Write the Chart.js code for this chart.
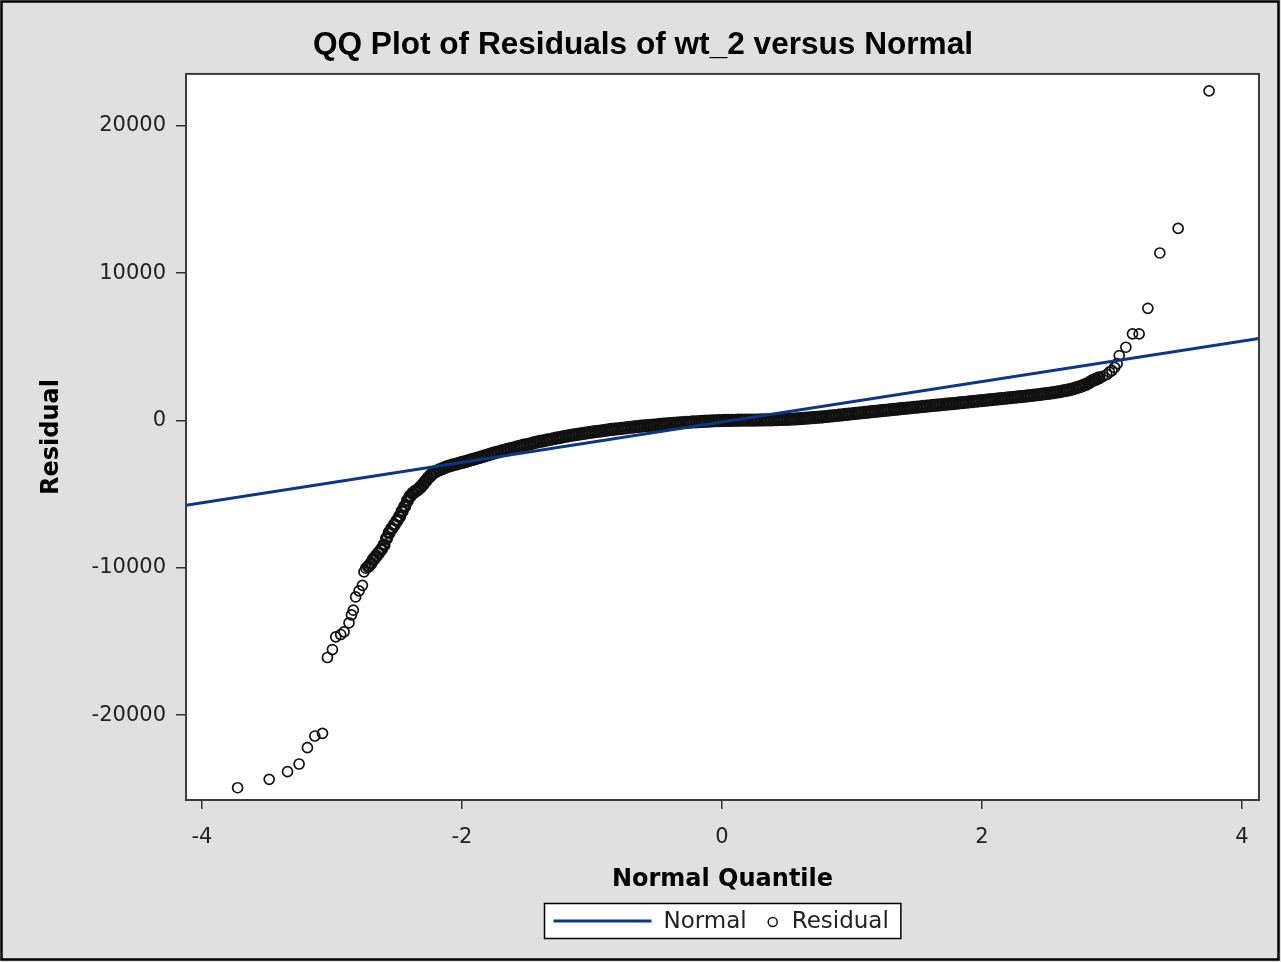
<!DOCTYPE html>
<html>
<head>
<meta charset="utf-8">
<title>QQ Plot of Residuals of wt_2 versus Normal</title>
<script src="https://cdn.jsdelivr.net/npm/chart.js@4.4.1/dist/chart.umd.min.js"></script>
<style>
  html, body { margin: 0; padding: 0; background: #e0e0e0; }
  #wrap { width: 1281px; height: 962px; }
</style>
</head>
<body>
<div id="wrap"><canvas id="qq-plot" width="1281" height="962"></canvas></div>
<script>
// axis ticks and ranges
var xTicks = [-4, -2, 0, 2, 4];
var yTicks = [-20000, -10000, 0, 10000, 20000];
var xRange = [-4.123, 4.131];
var yRange = [-25763, 23525];

// fitted normal line, ends at the plot edges
var normalX = [-4.123, 4.131];
var normalY = [-5763, 5559];

// residuals as [normal quantile, residual]
var lowerTail = [
  [-3.726, -24930], [-3.483, -24360], [-3.342, -23840], [-3.253, -23320], [-3.189, -22210],
  [-3.132, -21420], [-3.073, -21240], [-3.035, -16090], [-2.997, -15550], [-2.971, -14690],
  [-2.933, -14530], [-2.907, -14350], [-2.869, -13740], [-2.850, -13200], [-2.836, -12880],
  [-2.818, -11980], [-2.792, -11570], [-2.766, -11190], [-2.754, -10280], [-2.740, -10030]
];

var body = [
  [-2.72, -9900], [-2.70, -9700], [-2.68, -9420], [-2.66, -9200], [-2.64, -8980], [-2.62, -8750],
  [-2.60, -8450], [-2.58, -8000], [-2.56, -7620], [-2.54, -7320], [-2.52, -7080], [-2.50, -6800],
  [-2.48, -6520], [-2.46, -6150], [-2.44, -5830], [-2.42, -5450], [-2.40, -5150], [-2.38, -4950],
  [-2.36, -4810], [-2.34, -4690], [-2.32, -4530], [-2.30, -4340], [-2.28, -4120], [-2.26, -3900],
  [-2.24, -3720], [-2.22, -3560],
  [-2.200, -3450], [-2.175, -3350], [-2.150, -3270], [-2.125, -3170], [-2.100, -3090], [-2.075, -3030],
  [-2.050, -2970], [-2.025, -2910], [-2.000, -2850], [-1.975, -2790], [-1.950, -2730], [-1.925, -2660],
  [-1.900, -2600], [-1.875, -2530], [-1.850, -2470], [-1.825, -2400], [-1.800, -2330], [-1.775, -2270],
  [-1.750, -2200], [-1.725, -2140], [-1.700, -2080], [-1.675, -2020], [-1.650, -1960], [-1.625, -1910],
  [-1.600, -1850], [-1.575, -1790], [-1.550, -1740], [-1.525, -1680], [-1.500, -1630], [-1.475, -1580],
  [-1.450, -1520], [-1.425, -1470], [-1.400, -1420], [-1.375, -1380], [-1.350, -1330], [-1.325, -1290],
  [-1.300, -1240], [-1.275, -1200], [-1.250, -1160], [-1.225, -1110], [-1.200, -1070], [-1.175, -1030],
  [-1.150, -990], [-1.125, -960], [-1.100, -920], [-1.075, -890], [-1.050, -860], [-1.025, -820],
  [-1.000, -790], [-0.975, -760], [-0.950, -730], [-0.925, -700], [-0.900, -670], [-0.875, -640],
  [-0.850, -610], [-0.825, -590], [-0.800, -560], [-0.775, -530], [-0.750, -510], [-0.725, -480],
  [-0.700, -460], [-0.675, -440], [-0.650, -410], [-0.625, -390], [-0.600, -370], [-0.575, -350],
  [-0.550, -330], [-0.525, -310], [-0.500, -290], [-0.475, -270], [-0.450, -250], [-0.425, -230],
  [-0.400, -210], [-0.375, -200], [-0.350, -180], [-0.325, -160], [-0.300, -150], [-0.275, -130],
  [-0.250, -120], [-0.225, -100], [-0.200, -90], [-0.175, -80], [-0.150, -60], [-0.125, -50],
  [-0.100, -40], [-0.075, -30], [-0.050, -20], [-0.025, -10], [0.000, 0], [0.025, 5],
  [0.050, 8], [0.075, 12], [0.100, 15], [0.125, 18], [0.150, 20], [0.175, 22],
  [0.200, 25], [0.225, 28], [0.250, 30], [0.275, 32], [0.300, 35], [0.325, 38],
  [0.350, 42], [0.375, 46], [0.400, 50], [0.425, 58], [0.450, 65], [0.475, 72],
  [0.500, 80], [0.525, 90], [0.550, 100], [0.575, 110], [0.600, 120], [0.625, 138],
  [0.650, 155], [0.675, 172], [0.700, 190], [0.725, 210], [0.750, 230], [0.775, 250],
  [0.800, 270], [0.825, 292], [0.850, 315], [0.875, 338], [0.900, 360], [0.925, 385],
  [0.950, 408], [0.975, 432], [1.000, 455], [1.025, 480], [1.050, 502], [1.075, 526],
  [1.100, 550], [1.125, 572], [1.150, 595], [1.175, 618], [1.200, 640], [1.225, 662],
  [1.250, 685], [1.275, 708], [1.300, 730], [1.325, 752], [1.350, 775], [1.375, 798],
  [1.400, 820], [1.425, 842], [1.450, 865], [1.475, 888], [1.500, 910], [1.525, 932],
  [1.550, 955], [1.575, 978], [1.600, 1000], [1.625, 1020], [1.650, 1042], [1.675, 1064],
  [1.700, 1085], [1.725, 1106], [1.750, 1128], [1.775, 1150], [1.800, 1170], [1.825, 1192],
  [1.850, 1215], [1.875, 1238], [1.900, 1260], [1.925, 1282], [1.950, 1305], [1.975, 1328],
  [2.000, 1350], [2.025, 1372], [2.050, 1395], [2.075, 1418], [2.100, 1440], [2.125, 1462],
  [2.150, 1485], [2.175, 1508], [2.200, 1530], [2.225, 1552], [2.250, 1575], [2.275, 1598],
  [2.300, 1620], [2.325, 1645], [2.350, 1670], [2.375, 1695], [2.400, 1720], [2.425, 1748],
  [2.450, 1775], [2.475, 1802], [2.500, 1830], [2.525, 1862], [2.550, 1895], [2.575, 1928],
  [2.600, 1960], [2.625, 2005], [2.650, 2050], [2.675, 2100], [2.700, 2150], [2.725, 2220],
  [2.750, 2290], [2.775, 2370], [2.800, 2450], [2.825, 2570], [2.850, 2700], [2.875, 2800],
  [2.900, 2900]
];

var upperTail = [
  [2.930, 3000], [2.960, 3120], [2.980, 3280], [3.000, 3390], [3.020, 3600], [3.040, 3864],
  [3.056, 4407], [3.107, 4972], [3.158, 5876], [3.209, 5876], [3.276, 7616], [3.368, 11370],
  [3.509, 13037], [3.747, 22373]
];

// background, plot frame, outer frame and the boxed legend
var qqFrame = {
  id: 'qqFrame',
  beforeDraw: function (chart) {
    var c = chart.ctx, a = chart.chartArea;
    c.save();
    c.fillStyle = '#e0e0e0';
    c.fillRect(0, 0, chart.width, chart.height);
    c.fillStyle = '#ffffff';
    c.fillRect(a.left, a.top, a.right - a.left, a.bottom - a.top);
    c.restore();
  },
  afterDraw: function (chart) {
    var c = chart.ctx, a = chart.chartArea;
    var ds = chart.data.datasets;
    c.save();
    c.strokeStyle = '#3c3c3c';
    c.lineWidth = 2;
    c.strokeRect(a.left, a.top, a.right - a.left, a.bottom - a.top);

    c.strokeStyle = '#000';
    c.lineWidth = 2.5;
    c.strokeRect(1.5, 1.5, chart.width - 4, chart.height - 4);

    // legend
    c.font = '23px "DejaVu Sans"';
    var w0 = c.measureText(ds[0].label).width;
    var w1 = c.measureText(ds[1].label).width;
    var boxW = 9 + 98 + 12 + w0 + 21 + 10 + 14 + w1 + 12;
    var x0 = Math.round((a.left + a.right) / 2 - boxW / 2) + 0.5;
    var y0 = chart.height - 58.5, h = 35, cy = y0 + h / 2;
    c.fillStyle = '#fff';
    c.fillRect(x0, y0, boxW, h);
    c.strokeStyle = '#000';
    c.lineWidth = 1.5;
    c.strokeRect(x0, y0, boxW, h);

    c.strokeStyle = ds[0].borderColor;
    c.lineWidth = 3;
    c.beginPath();
    c.moveTo(x0 + 9, cy);
    c.lineTo(x0 + 107, cy);
    c.stroke();

    c.fillStyle = '#222';
    c.textBaseline = 'middle';
    c.textAlign = 'left';
    var tx = x0 + 119;
    c.fillText(ds[0].label, tx, cy + 1);

    var px = tx + w0 + 21 + 5;
    c.strokeStyle = ds[1].pointBorderColor;
    c.lineWidth = 1.5;
    c.beginPath();
    c.arc(px, cy + 1, 4.5, 0, Math.PI * 2);
    c.stroke();

    c.fillText(ds[1].label, px + 5 + 14, cy + 1);
    c.restore();
  }
};

function toPoints(pairs) {
  return pairs.map(function (p) { return { x: p[0], y: p[1] }; });
}

// the packed middle of the sample reads as a solid band
function ringWidth(c) {
  var i = c.dataIndex;
  return (i >= lowerTail.length && i < lowerTail.length + body.length) ? 3.2 : 1.7;
}

var ctx = document.getElementById("qq-plot").getContext('2d');
var myChart = new Chart(ctx, {
  type: 'scatter',
  data: {
    datasets: [{
      type: 'line',
      label: 'Normal',
      data: normalX.map(function (x, i) { return { x: x, y: normalY[i] }; }),
      borderColor: '#0a3887',
      borderWidth: 3,
      pointRadius: 0,
      fill: false,
      tension: 0
    }, {
      label: 'Residual',
      data: toPoints(lowerTail.concat(body, upperTail)),
      pointStyle: 'circle',
      pointRadius: 5,
      pointHoverRadius: 5,
      pointBorderWidth: ringWidth,
      pointBorderColor: '#111',
      pointBackgroundColor: 'rgba(0,0,0,0)'
    }]
  },
  options: {
    responsive: false,
    animation: false,
    events: [],
    layout: { padding: { left: 27, right: 22, top: 0, bottom: 62 } },
    plugins: {
      legend: { display: false },
      tooltip: { enabled: false },
      title: {
        display: true,
        text: 'QQ Plot of Residuals of wt_2 versus Normal',
        color: '#000',
        font: { family: 'Liberation Sans', size: 31.6, weight: 'bold' },
        padding: { top: 26, bottom: 10 }
      }
    },
    scales: {
      x: {
        type: 'linear',
        min: xRange[0],
        max: xRange[1],
        afterBuildTicks: function (scale) { scale.ticks = xTicks.map(function (v) { return { value: v }; }); },
        afterFit: function (scale) { scale.height = 100; },
        grid: { drawOnChartArea: false, drawTicks: true, tickLength: 9, color: '#333', lineWidth: 1.5 },
        border: { display: false },
        ticks: {
          autoSkip: false, maxRotation: 0, padding: 16, color: '#222',
          font: { family: 'DejaVu Sans', size: 21 },
          callback: function (v) { return String(v); }
        },
        title: {
          display: true, text: 'Normal Quantile', color: '#000',
          font: { family: 'DejaVu Sans', size: 24, weight: 'bold' },
          padding: { top: 0, bottom: 6 }
        }
      },
      y: {
        type: 'linear',
        min: yRange[0],
        max: yRange[1],
        afterBuildTicks: function (scale) { scale.ticks = yTicks.map(function (v) { return { value: v }; }); },
        afterFit: function (scale) { scale.width = 159; },
        grid: { drawOnChartArea: false, drawTicks: true, tickLength: 10, color: '#333', lineWidth: 1.5 },
        border: { display: false },
        ticks: {
          autoSkip: false, padding: 10, color: '#222',
          font: { family: 'DejaVu Sans', size: 21 },
          callback: function (v) { return String(v); }
        },
        title: {
          display: true, text: 'Residual', color: '#000',
          font: { family: 'DejaVu Sans', size: 24, weight: 'bold' },
          padding: { top: 10, bottom: 0 }
        }
      }
    }
  },
  plugins: [qqFrame]
});
</script>
</body>
</html>
